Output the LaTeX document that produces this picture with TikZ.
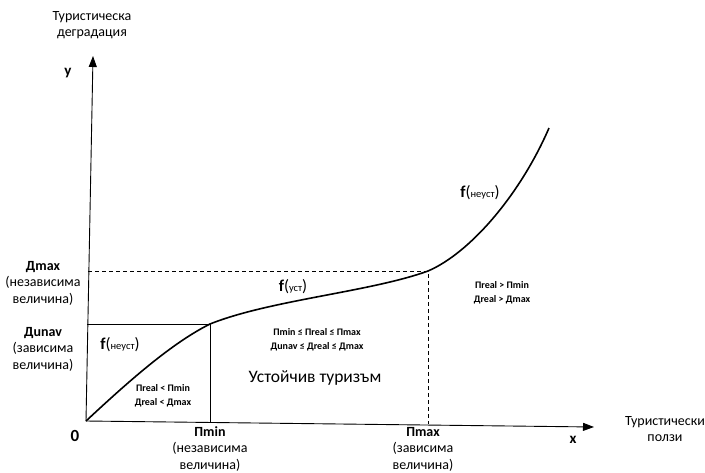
\documentclass[tikz,border=0pt]{standalone}
\usepackage{fontspec}
\setmainfont{Carlito}
\usetikzlibrary{arrows.meta}
\begin{document}
\begin{tikzpicture}[x=1pt,y=-1pt,
  >={Triangle[length=11pt,width=8pt]},
  lbl/.style={align=center, font=\fontsize{14}{16.5}\selectfont, inner sep=0},
  cond/.style={align=center, font=\bfseries\fontsize{10}{14}\selectfont, inner sep=0},
  axisline/.style={line width=0.9pt, ->},
  guide/.style={line width=0.8pt},
  dguide/.style={line width=0.8pt, dash pattern=on 4pt off 3pt},
  curve/.style={line width=1.6pt}]
\useasboundingbox (0,0) rectangle (705,472);
\coordinate (O) at (86,421);
\coordinate (ytip) at (93,56);
\coordinate (xtip) at (594,427);
\coordinate (dmaxL) at (88,271);
\coordinate (B) at (428,271);
\coordinate (pmaxB) at (428,424);
\coordinate (dunavL) at (87,324);
\coordinate (A) at (210,324);
\coordinate (pminB) at (210,422);
\coordinate (top) at (549,128);
\draw[axisline] (O) -- (ytip);
\draw[axisline] (O) -- (xtip);
\draw[dguide] (dmaxL) -- (B) -- (pmaxB);
\draw[guide] (dunavL) -- (A) -- (pminB);
\draw[curve] (O) .. controls (130,380) and (172,343) .. (A)
  .. controls (270,300) and (370,292) .. (B)
  .. controls (470,253) and (520,195) .. (top);
% labels
\node[lbl] (ttl) at (92,25) {Туристическа\\деградация};
\node[lbl] (tx) at (665,429) {Туристически\\ползи};
\node[font=\bfseries\fontsize{15}{16}\selectfont, inner sep=0] (ylab) at (68,73) {y};
\node[font=\bfseries\fontsize{15}{16}\selectfont, inner sep=0] (xlab) at (573,440) {x};
\node[font=\bfseries\fontsize{17}{18}\selectfont, inner sep=0] (zero) at (75,436) {0};
\node[lbl] (dmax) at (43,283) {\textbf{Дmax}\\(независима\\величина)};
\node[lbl] (dunav) at (43,349) {\textbf{Дunav}\\(зависима\\величина)};
\node[lbl] (pmin) at (210,449) {\textbf{Пmin}\\(независима\\величина)};
\node[lbl] (pmax) at (423,449) {\textbf{Пmax}\\(зависима\\величина)};
\node[inner sep=0] (f1) at (120,345) {\fontsize{16.5}{18}\selectfont\textbf{f}(\fontsize{10.5}{12}\selectfont неуст\fontsize{16.5}{18}\selectfont)};
\node[inner sep=0] (f2) at (293,287) {\fontsize{16.5}{18}\selectfont\textbf{f}(\fontsize{10.5}{12}\selectfont уст\fontsize{16.5}{18}\selectfont)};
\node[inner sep=0] (f3) at (480,193) {\fontsize{16.5}{18}\selectfont\textbf{f}(\fontsize{10.5}{12}\selectfont неуст\fontsize{16.5}{18}\selectfont)};
\node[cond] (c1) at (163,396) {Пreal < Пmin\\Дreal < Дmax};
\node[cond] (c2) at (317,340) {Пmin ≤ Пreal ≤ Пmax\\Дunav ≤ Дreal ≤ Дmax};
\node[cond] (c3) at (502,293) {Пreal > Пmin\\Дreal > Дmax};
\node[font=\fontsize{17.5}{19}\selectfont, inner sep=0] (ut) at (315,378) {Устойчив туризъм};
\end{tikzpicture}
\end{document}
